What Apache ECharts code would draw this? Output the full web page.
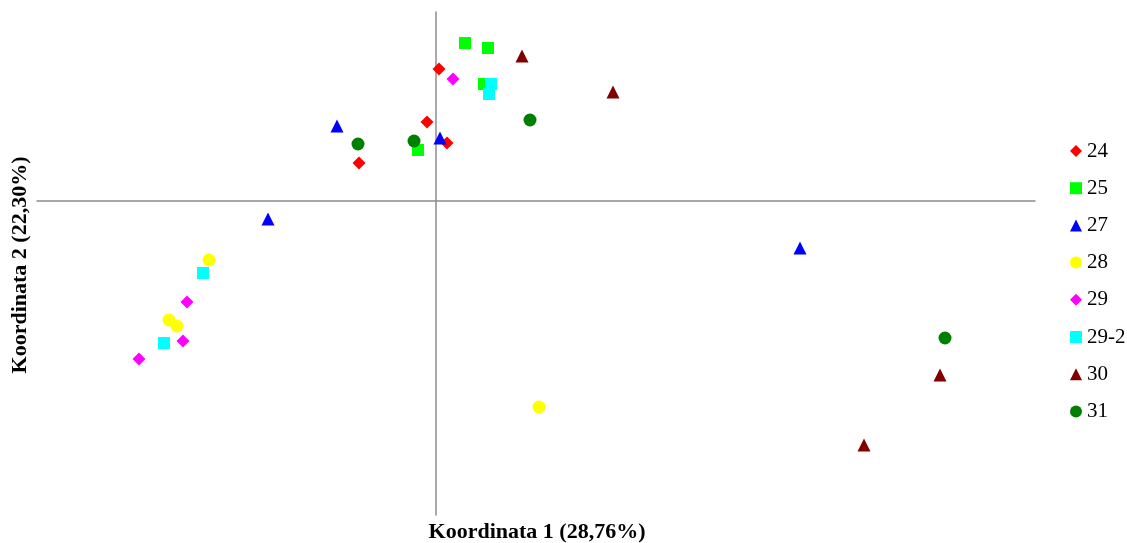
<!DOCTYPE html>
<html>
<head>
<meta charset="utf-8">
<script src="https://cdn.jsdelivr.net/npm/echarts@6/dist/echarts.min.js"></script>
<style>html,body{margin:0;padding:0;background:#fff}#c{width:1127px;height:543px}</style>
</head>
<body>
<div id="c"></div>
<script>
var seriesNames = ['24','25','27','28','29','29-2','30','31'];
var s24 = [[0.03,1.32],[-0.09,0.79],[0.11,0.58],[-0.77,0.38]];
var s25 = [[0.29,1.58],[0.52,1.53],[0.48,1.17],[-0.18,0.51]];
var s27 = [[-0.99,0.75],[0.04,0.63],[-1.68,-0.18],[3.64,-0.47]];
var s28 = [[-2.27,-0.59],[-2.67,-1.19],[-2.59,-1.25],[1.03,-2.06]];
var s29 = [[0.17,1.22],[-2.49,-1.01],[-2.53,-1.40],[-2.97,-1.58]];
var s292 = [[0.55,1.17],[0.53,1.07],[-2.33,-0.72],[-2.72,-1.42]];
var s30 = [[0.86,1.45],[1.77,1.09],[5.04,-1.74],[4.28,-2.44]];
var s31 = [[0.94,0.81],[-0.78,0.57],[-0.22,0.60],[5.09,-1.37]];

var allData = [s24, s25, s27, s28, s29, s292, s30, s31];
var colors = ['#FF0000','#00FF00','#0000FF','#FFFF00','#FF00FF','#00FFFF','#800000','#008000'];
var symbols = ['diamond','rect','triangle','circle','diamond','rect','triangle','circle'];
var sizes = [13,12,13,13,13,12,13,13];

var chart = echarts.init(document.getElementById('c'));
var series = seriesNames.map(function(n,i){
  return {
    name: n, type: 'scatter', data: allData[i],
    symbol: symbols[i], symbolSize: sizes[i],
    itemStyle: {color: colors[i], opacity: 1},
    emphasis: {disabled: true}
  };
});
var axisCommon = {
  axisLine: {onZero: true, lineStyle: {color: '#8c8c8c', width: 1.5}},
  axisTick: {show: false}, axisLabel: {show: false}, splitLine: {show: false}
};
chart.setOption({
  animation: false,
  backgroundColor: '#fff',
  grid: {left: 37, right: 92, top: 12, bottom: 28},
  xAxis: Object.assign({type: 'value', min: -3.99, max: 5.99}, axisCommon),
  yAxis: Object.assign({type: 'value', min: -3.14, max: 1.89}, axisCommon),
  legend: {
    orient: 'vertical', left: 1070, top: 139, padding: 0,
    itemWidth: 12, itemHeight: 12, itemGap: 13.2,
    textStyle: {fontFamily: 'Liberation Serif', fontSize: 21, color: '#000', lineHeight: 24},
    data: seriesNames.map(function(n,i){return {name:n, icon: symbols[i]};})
  },
  graphic: [
    {type: 'text', x: 537, y: 532, style: {
      text: 'Koordinata 1 (28,76%)', font: 'bold 22px "Liberation Serif"', fill: '#000',
      align: 'center', verticalAlign: 'middle'
    }},
    {type: 'text', rotation: Math.PI/2, x: 20, y: 265, style: {
      text: 'Koordinata 2 (22,30%)', font: 'bold 22px "Liberation Serif"', fill: '#000',
      align: 'center', verticalAlign: 'middle'
    }}
  ],
  series: series
});
</script>
</body>
</html>
